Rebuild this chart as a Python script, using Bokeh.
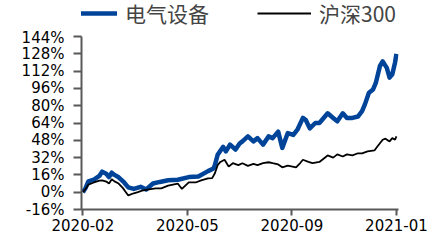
from bokeh.plotting import figure
from bokeh.layouts import column
from bokeh.models import Range1d, FixedTicker, PrintfTickFormatter, Legend, LegendItem
from bokeh.embed import file_html
from bokeh.resources import INLINE

# ---- data (trading-day index, cumulative return in %) ----
elec_idx = [0, 2, 4, 8, 12, 14, 17, 19, 21, 23, 26, 30, 33, 37, 42, 46, 51, 56, 62, 69,
            77, 84, 91, 95, 96, 98, 102, 104, 107, 111, 114, 116, 120, 124, 127, 131, 135,
            138, 142, 145, 149, 153, 156, 160, 162, 165, 169, 172, 174, 178, 182, 185, 189,
            192, 196, 200, 203, 205, 208, 211, 213, 216, 218, 221, 223, 225, 227, 228]
elec_equip = [0, 4, 10, 11.6, 15, 19, 17, 14, 18, 16, 13.8, 9, 4.5, 3, 5, 2.5, 8, 9.5, 11, 11.5,
              14, 14.5, 19.5, 22, 25, 34.6, 42, 37.7, 44, 39.5, 45, 47, 51.6, 47, 50, 44, 51.6,
              50, 56, 41, 54.7, 53, 57.8, 68.7, 67, 59, 64, 64, 67, 73, 68.7, 65.6, 73,
              68.7, 68.7, 70, 75, 81, 92, 95, 101, 116.7, 121, 115, 106, 109, 120, 128]

hs_idx = [0, 2, 4, 8, 12, 14, 17, 19, 21, 23, 26, 29, 31, 33, 37, 40, 43, 48, 53, 57, 62, 69,
          72, 77, 82, 86, 91, 94, 96, 98, 100, 103, 106, 109, 113, 116, 120, 124, 127, 131,
          135, 138, 142, 145, 149, 155, 158, 160, 164, 167, 172, 175, 178, 182, 185, 189,
          192, 196, 200, 203, 207, 212, 214, 218, 220, 223, 225, 227, 228]
csi300 = [0, 3, 7, 9, 10.7, 11, 9.8, 8, 12, 10, 8, 4, 0.5, -3, -1, 0, 1.4, 2.6, 3.5, 3.5, 6, 8,
          3, 9, 9, 11, 12.8, 13, 17.5, 25, 28, 30, 23.7, 26.8, 25, 26.8, 24.4, 26.2, 25, 26.8,
          27.7, 26.8, 25.7, 23, 24.5, 23, 27, 30, 28, 26.8, 28, 31, 34, 32, 35, 33,
          35, 34, 36, 36, 37.7, 38.6, 42, 48.5, 49.5, 47, 50, 48.5, 51.6]

x_ticks = [0, 76, 152, 228]
x_labels = ["2020-02", "2020-05", "2020-09", "2021-01"]
y_ticks = [-16, 0, 16, 32, 48, 64, 80, 96, 112, 128, 144]

series_names = ["电气设备", "沪深300"]
colors = ["#00449A", "black"]
widths = [4.5, 1.8]

# ---- legend strip (separate small figure above the chart; its lines lie outside its range) ----
lf = figure(width=430, height=28, output_backend="svg", toolbar_location=None,
            x_range=Range1d(1000, 1001), y_range=Range1d(1000, 1001),
            min_border_left=81, min_border_right=32, min_border_top=0, min_border_bottom=0)
lf.axis.visible = False
lf.grid.visible = False
lf.outline_line_color = None
lr1 = lf.line(elec_idx, elec_equip, line_color=colors[0], line_width=widths[0])
lr2 = lf.line(hs_idx, csi300, line_color=colors[1], line_width=widths[1])
legend = Legend(items=[LegendItem(label=series_names[0], renderers=[lr1]),
                       LegendItem(label=series_names[1], renderers=[lr2])],
                orientation="horizontal", location=(-18, 0),
                glyph_width=54, glyph_height=24, label_height=24, label_standoff=8,
                spacing=48, padding=0, margin=0,
                label_text_font="Noto Sans CJK SC", label_text_font_size="21px",
                border_line_color=None, background_fill_alpha=0)
lf.add_layout(legend)

# ---- main chart ----
p = figure(width=430, height=207, output_backend="svg", toolbar_location=None,
           x_range=Range1d(-1, 229.5), y_range=Range1d(-16, 144),
           min_border_left=81, min_border_right=32, min_border_top=8, min_border_bottom=26)
p.outline_line_color = None
p.xgrid.visible = False
p.ygrid.visible = False
p.background_fill_color = "white"

p.line(elec_idx, elec_equip, line_color=colors[0], line_width=widths[0], line_join="round")
p.line(hs_idx, csi300, line_color=colors[1], line_width=widths[1])

axis_color = "#595959"
for ax in (p.xaxis[0], p.yaxis[0]):
    ax.axis_line_color = axis_color
    ax.axis_line_width = 2
    ax.major_tick_line_color = axis_color
    ax.major_tick_line_width = 2
    ax.minor_tick_line_color = None
    ax.major_tick_in = 0
    ax.major_label_text_font = "DejaVu Sans"
    ax.major_label_text_font_size = "15px"
    ax.major_label_text_color = "black"

p.xaxis.ticker = FixedTicker(ticks=x_ticks)
p.xaxis.major_label_overrides = {t: l for t, l in zip(x_ticks, x_labels)}
p.xaxis.major_tick_out = 6
p.xaxis.major_label_standoff = 3
p.yaxis.ticker = FixedTicker(ticks=y_ticks)
p.yaxis.formatter = PrintfTickFormatter(format="%d%%")
p.yaxis.major_tick_out = 8
p.yaxis.major_label_standoff = 9

layout = column(lf, p, spacing=0)
open("out.html", "w").write(file_html(layout, INLINE))
